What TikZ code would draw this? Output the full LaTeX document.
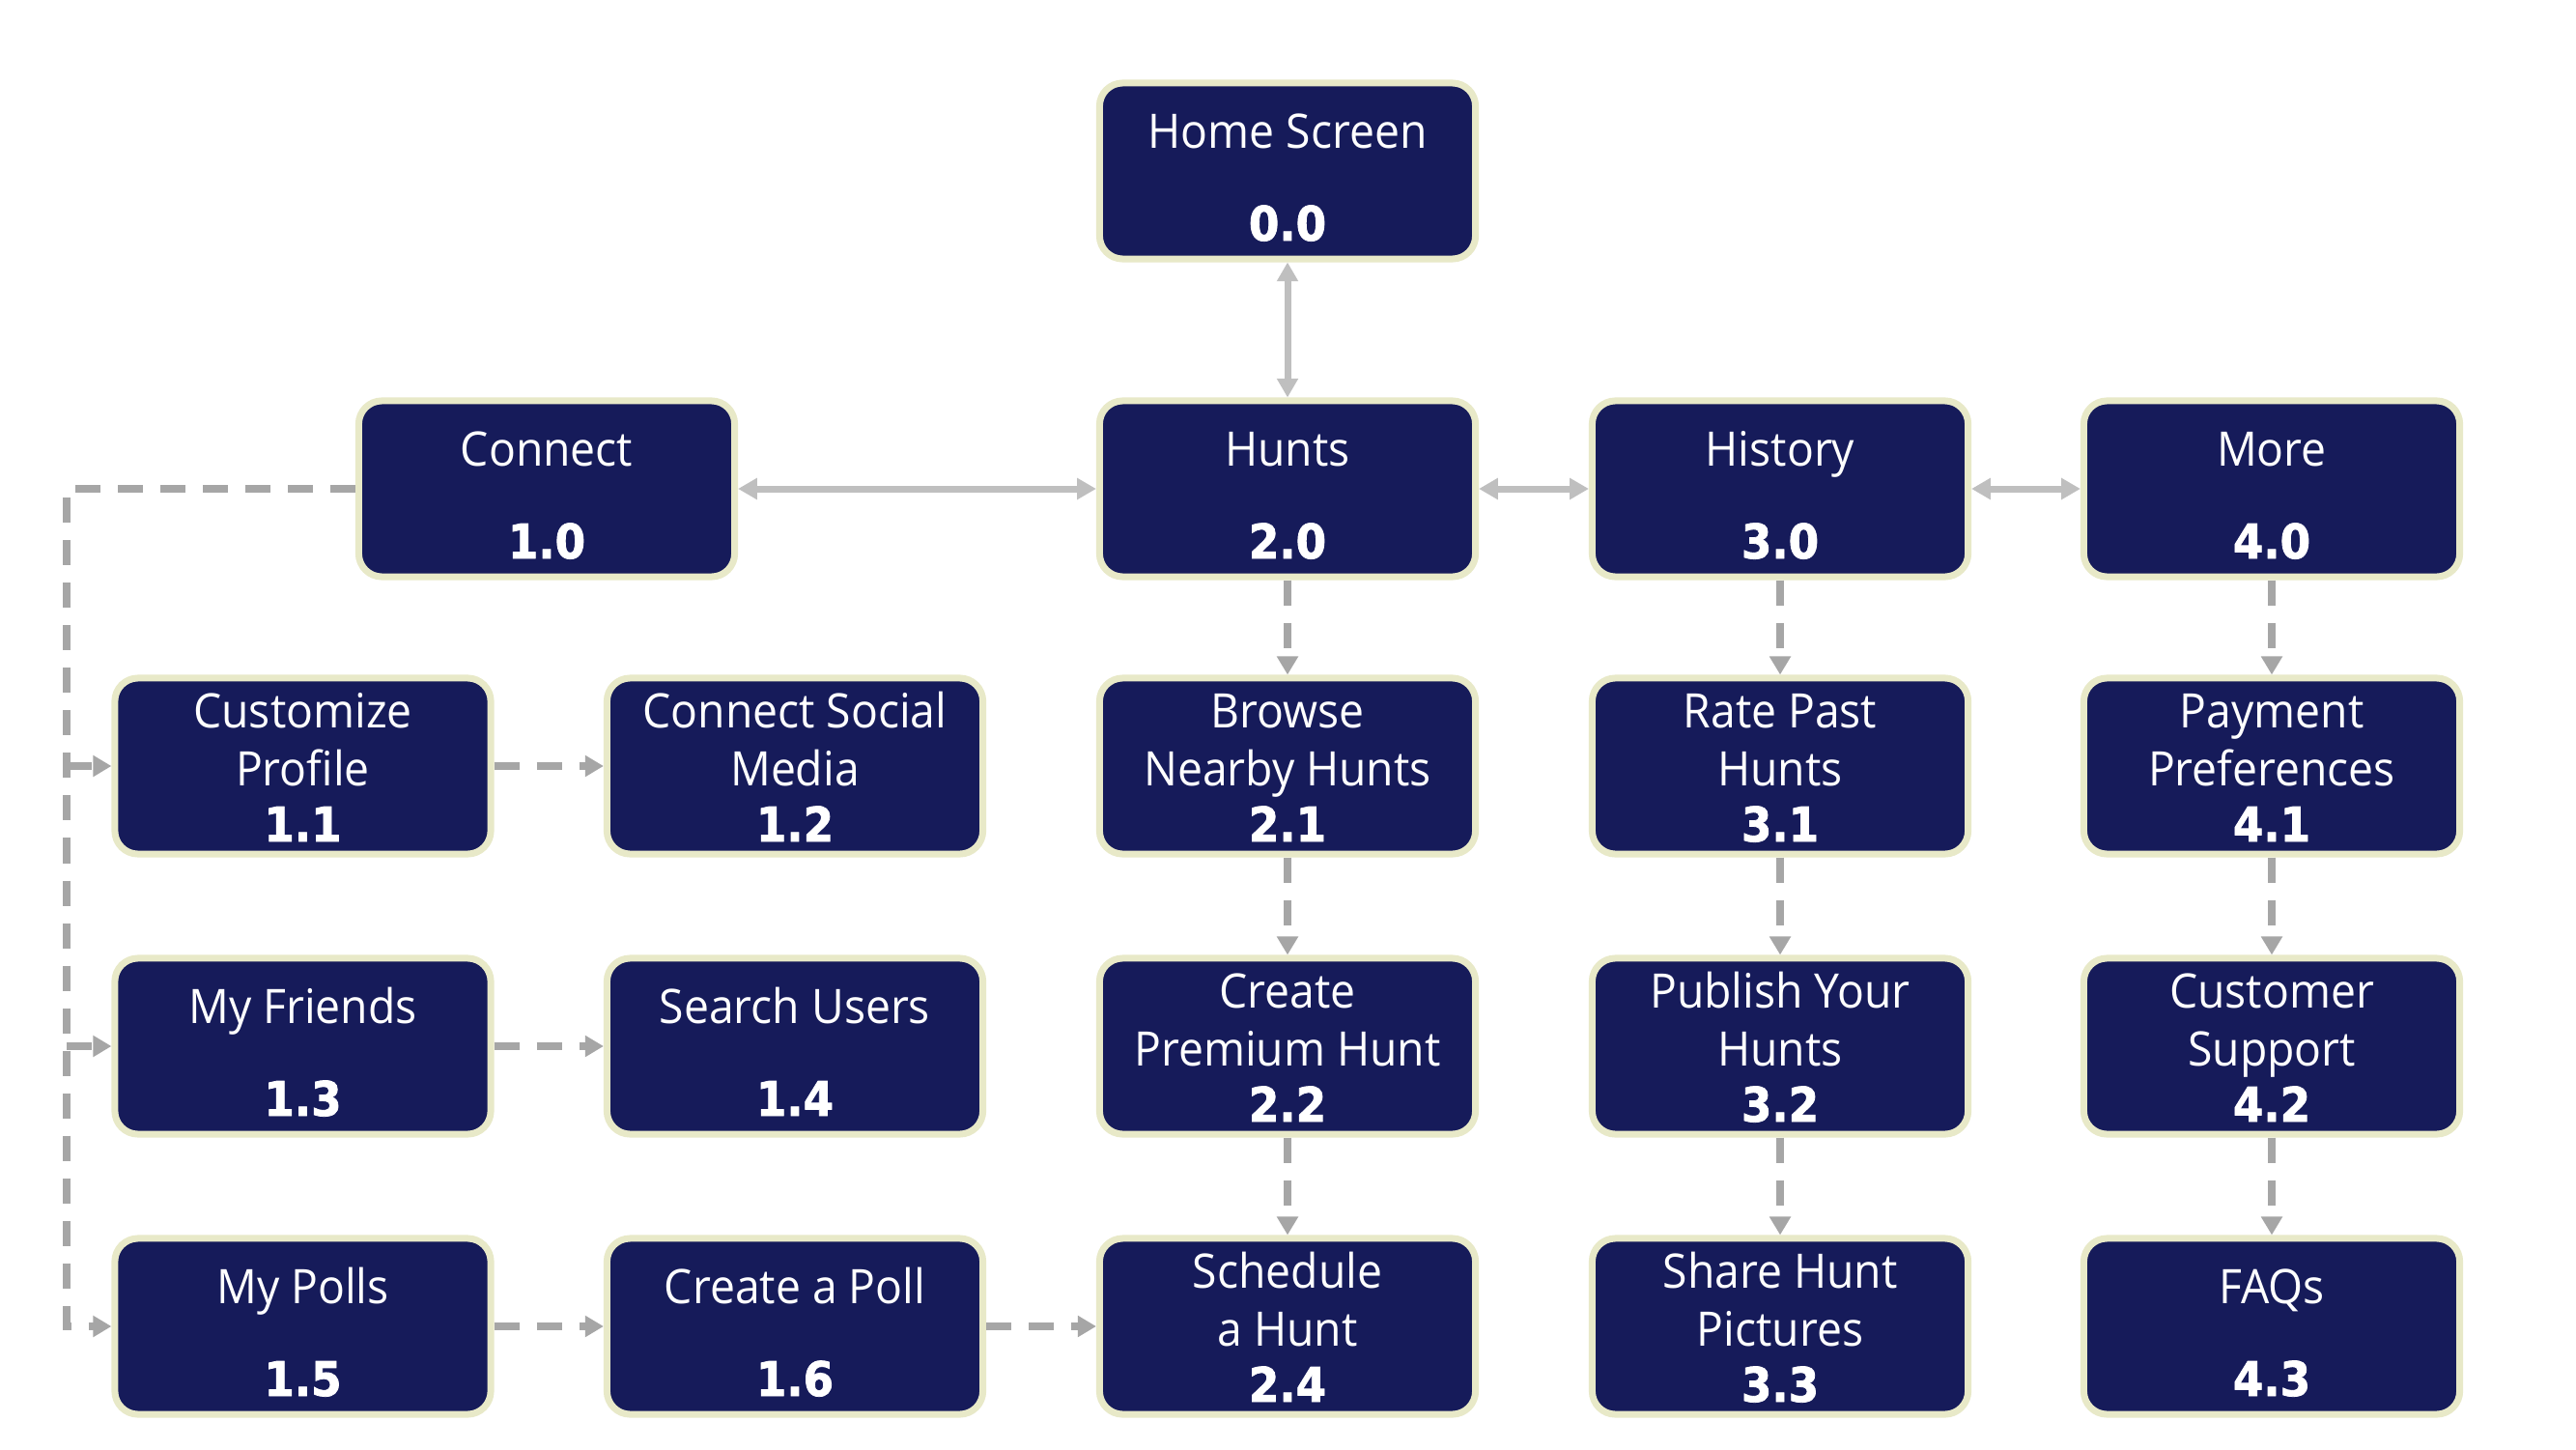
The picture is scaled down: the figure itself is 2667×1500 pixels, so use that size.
\documentclass[tikz,border=0pt]{standalone}
\usepackage{fontspec}
\setmainfont{Open Sans}[FakeStretch=0.94]
\newfontfamily\numfont{DejaVu Sans}[FakeStretch=0.92, BoldFeatures={FakeBold=1.6}]
\usetikzlibrary{arrows.meta}
\definecolor{navy}{HTML}{161B5A}
\definecolor{cream}{HTML}{E8E9C8}
\definecolor{solidgray}{HTML}{BFBFBF}
\definecolor{dashgray}{HTML}{A6A6A6}
\tikzset{
  screen/.style={draw=cream, fill=navy, line width=0.07cm, rounded corners=0.24cm,
    minimum width=3.89cm, minimum height=1.82cm, inner sep=0pt},
  ttl/.style={anchor=base, text=white, inner sep=0pt, font=\fontsize{14}{16}\selectfont},
  num/.style={anchor=base, text=white, inner sep=0pt, font={\fontsize{14}{16}\selectfont\numfont\bfseries}},
  link/.style={draw=solidgray, line width=0.07cm,
    {Triangle[length=5.6pt,width=6pt]}-{Triangle[length=5.6pt,width=6pt]}},
  sublink/.style={draw=dashgray, line width=0.075cm, dash pattern=on 0.26cm off 0.18cm,
    -{Triangle[length=5.4pt,width=6pt]}},
}
\newcommand\scrtwo[5]{%
  \node[screen] (#1) at (#2,#3) {};
  \node[ttl] (#1-t) at (#2,#3-24) {#4};
  \node[num] (#1-n) at (#2,#3+72) {#5};
}
\newcommand\scrthree[6]{%
  \node[screen] (#1) at (#2,#3) {};
  \node[ttl] (#1-a) at (#2,#3-40) {#4};
  \node[ttl] (#1-b) at (#2,#3+20) {#5};
  \node[num] (#1-n) at (#2,#3+78) {#6};
}
\begin{document}
\begin{tikzpicture}[x=0.01cm,y=-0.01cm]
\fill[white] (0,0) rectangle (2667,1500);
\useasboundingbox (0,0) rectangle (2667,1500);

% top
\scrtwo{c00}{1333}{177}{Home Screen}{0.0}
% row 1
\scrtwo{c10}{566}{506}{Connect}{1.0}
\scrtwo{c20}{1333}{506}{Hunts}{2.0}
\scrtwo{c30}{1843}{506}{History}{3.0}
\scrtwo{c40}{2352}{506}{More}{4.0}
% row 2
\scrthree{c11}{313.5}{793}{Customize}{Profile}{1.1}
\scrthree{c12}{823}{793}{Connect Social}{Media}{1.2}
\scrthree{c21}{1333}{793}{Browse}{Nearby Hunts}{2.1}
\scrthree{c31}{1843}{793}{Rate Past}{Hunts}{3.1}
\scrthree{c41}{2352}{793}{Payment}{Preferences}{4.1}
% row 3
\scrtwo{c13}{313.5}{1083}{My Friends}{1.3}
\scrtwo{c14}{823}{1083}{Search Users}{1.4}
\scrthree{c22}{1333}{1083}{Create}{Premium Hunt}{2.2}
\scrthree{c32}{1843}{1083}{Publish Your}{Hunts}{3.2}
\scrthree{c42}{2352}{1083}{Customer}{Support}{4.2}
% row 4
\scrtwo{c15}{313.5}{1373}{My Polls}{1.5}
\scrtwo{c16}{823}{1373}{Create a Poll}{1.6}
\scrthree{c24}{1333}{1373}{Schedule}{a Hunt}{2.4}
\scrthree{c33}{1843}{1373}{Share Hunt}{Pictures}{3.3}
\scrtwo{c43}{2352}{1373}{FAQs}{4.3}

% solid two-way links
\draw[link] (c00.south) -- (c20.north);
\draw[link] (c10.east) -- (c20.west);
\draw[link] (c20.east) -- (c30.west);
\draw[link] (c30.east) -- (c40.west);

% trunk of Connect
\coordinate (tk1) at (69,506);
\coordinate (tk2) at (69,793);
\coordinate (tk3) at (69,1083);
\coordinate (tk4) at (69,1373);
\draw[sublink] (c10.west) -- (tk1) -- (tk4) -- (c15.west);
\draw[sublink] (tk2) -- (c11.west);
\draw[sublink] (tk3) -- (c13.west);

% horizontal dashed
\draw[sublink] (c11.east) -- (c12.west);
\draw[sublink] (c13.east) -- (c14.west);
\draw[sublink] (c15.east) -- (c16.west);
\draw[sublink] (c16.east) -- (c24.west);

% vertical dashed
\draw[sublink] (c20.south) -- (c21.north);
\draw[sublink] (c21.south) -- (c22.north);
\draw[sublink] (c22.south) -- (c24.north);
\draw[sublink] (c30.south) -- (c31.north);
\draw[sublink] (c31.south) -- (c32.north);
\draw[sublink] (c32.south) -- (c33.north);
\draw[sublink] (c40.south) -- (c41.north);
\draw[sublink] (c41.south) -- (c42.north);
\draw[sublink] (c42.south) -- (c43.north);
\end{tikzpicture}
\end{document}
